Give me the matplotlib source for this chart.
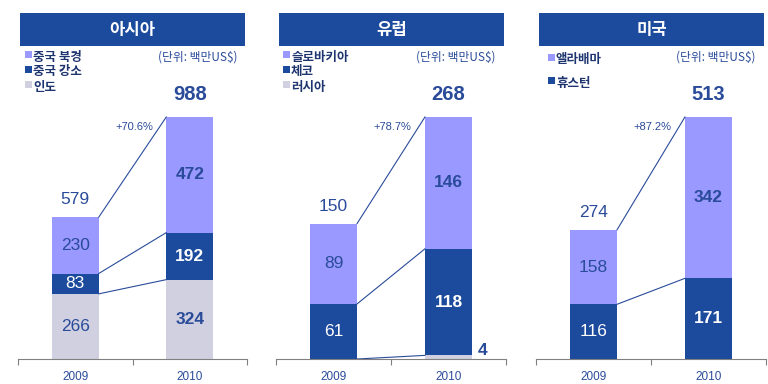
import matplotlib
matplotlib.use("Agg")
import matplotlib.pyplot as plt
from matplotlib.patches import Rectangle

plt.rcParams['font.family'] = ['Noto Sans CJK KR', 'DejaVu Sans']

# --- data -------------------------------------------------------------
years = ["2009", "2010"]

asia_title = "아시아"
asia_names = ["인도", "중국 강소", "중국 북경"]          # bottom -> top
asia_2009 = [266, 83, 230]
asia_2010 = [324, 192, 472]

europe_title = "유럽"
europe_names = ["러시아", "체코", "슬로바키아"]
europe_2009 = [0, 61, 89]
europe_2010 = [4, 118, 146]

us_title = "미국"
us_names = ["휴스턴", "앨라배마"]
us_2009 = [116, 158]
us_2010 = [171, 342]

unit_label = "(단위: 백만US$)"

# --- style ------------------------------------------------------------
W, H = 768, 384
NAVY = "#1C4A9C"
PURPLE = "#9999FF"
GREY = "#D0D0E0"
TXT = "#2A4B9A"
LEG_TXT = "#1F3570"
NUM_FONT = ['Liberation Sans', 'DejaVu Sans']

seg_colors = {3: [GREY, NAVY, PURPLE], 2: [NAVY, PURPLE]}

fig = plt.figure(figsize=(W / 100, H / 100), dpi=100)


def fx(x):
    return x / W


def fy(y):
    return 1 - y / H


def panel(title, names, v09, v10, ax_px, band_px, sq_x, rows):
    left, right = ax_px
    base, top = 359, 60
    ax = fig.add_axes([fx(left), fy(base), fx(right - left), (base - top) / H])
    t09, t10 = sum(v09), sum(v10)
    ax.set_xlim(0, 2)
    ax.set_ylim(0, t10 * (base - top) / 242)
    w = 0.41
    cols = seg_colors[len(names)]

    b09, b10 = 0, 0
    for k, (a, b) in enumerate(zip(v09, v10)):
        ax.bar(0.5, a, w, bottom=b09, color=cols[k], linewidth=0)
        ax.bar(1.5, b, w, bottom=b10, color=cols[k], linewidth=0)
        tc = "white" if cols[k] == NAVY else TXT
        if a > 0:
            ax.text(0.5, b09 + a / 2, str(a), ha="center", va="center",
                    fontsize=12.5, color=tc, family=NUM_FONT)
        if b > t10 * 0.04:
            ax.text(1.5, b10 + b / 2, str(b), ha="center", va="center",
                    fontsize=12.5, color=tc, fontweight="bold", family=NUM_FONT)
        else:
            ax.annotate(str(b), (1.5 + w / 2, b10), xytext=(4, 1),
                        textcoords="offset points", ha="left", va="bottom",
                        fontsize=12.5, color=TXT, fontweight="bold", family=NUM_FONT)
        # connector from 2009 boundary to 2010 boundary
        ax.plot([0.5 + w / 2, 1.5 - w / 2], [b09 + a, b10 + b],
                color=TXT, lw=0.8)
        b09 += a
        b10 += b

    ax.annotate(str(t09), (0.5, t09), xytext=(0, 12.5), textcoords="offset points",
                ha="center", va="center", fontsize=12.5, color=TXT, family=NUM_FONT)
    ax.annotate(str(t10), (1.5, t10), xytext=(0, 16), textcoords="offset points",
                ha="center", va="center", fontsize=14.5, color=TXT,
                fontweight="bold", family=NUM_FONT)

    growth = (t10 / t09 - 1) * 100
    ax.text(1.0 + 1.5 / 114.5, t10 * 231.5 / 242, "+%.1f%%" % growth,
            ha="center", va="center", fontsize=8, color=TXT, family=NUM_FONT)

    for s in ["left", "top", "right"]:
        ax.spines[s].set_visible(False)
    ax.spines["bottom"].set_color("#808080")
    ax.set_yticks([])
    ax.set_xticks([0, 1, 2])
    ax.set_xticklabels([])
    ax.tick_params(axis="x", length=4, color="#808080", direction="out")
    for i, yr in enumerate(years):
        ax.text(0.5 + i, -18 / (base - top), yr, transform=ax.get_xaxis_transform(),
                ha="center", va="center", fontsize=8.5, color=TXT, family=NUM_FONT)

    # title band
    bl, br = band_px
    fig.add_artist(Rectangle((fx(bl), fy(46)), fx(br - bl), 33 / H,
                             transform=fig.transFigure, color=NAVY, lw=0))
    fig.text(fx((bl + br) / 2), fy(30), title, ha="center", va="center",
             fontsize=12, fontweight="bold", color="white")
    fig.text(fx(br - 8), fy(57), unit_label, ha="right", va="center",
             fontsize=8.5, color=TXT)

    # legend, top -> bottom
    for name, col, ry in zip(names[::-1], cols[::-1], rows):
        fig.add_artist(Rectangle((fx(sq_x), fy(ry + 1)), fx(6.5), 6.5 / H,
                                 transform=fig.transFigure, color=col, lw=0))
        fig.text(fx(sq_x + 8), fy(ry), name, ha="left", va="center",
                 fontsize=9, fontweight="bold", color=LEG_TXT)


panel(asia_title, asia_names, asia_2009, asia_2010, (18, 247), (20, 245), 25, [57, 72, 87])
panel(europe_title, europe_names, europe_2009, europe_2010, (276, 506), (279, 504), 283, [57, 72, 87])
panel(us_title, us_names, us_2009, us_2010, (536, 766), (539, 764), 548, [60, 83])

fig.savefig("out.png", dpi=100)
